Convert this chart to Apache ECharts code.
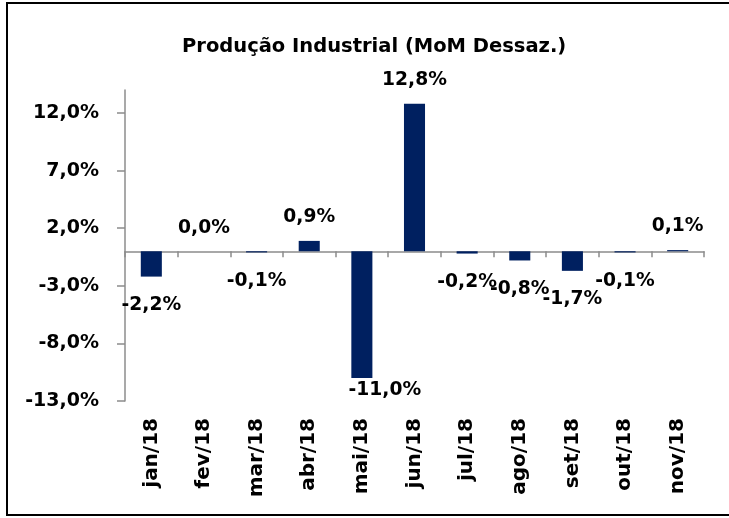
<!DOCTYPE html>
<html>
<head>
<meta charset="utf-8">
<script src="https://cdn.jsdelivr.net/npm/echarts@6/dist/echarts.min.js"></script>
<style>
  html, body { margin: 0; padding: 0; background: #fff; }
  #chart { width: 729px; height: 518px; }
</style>
</head>
<body>
<div id="chart"></div>
<script>
  // dados
  const meses = ['jan/18', 'fev/18', 'mar/18', 'abr/18', 'mai/18', 'jun/18', 'jul/18', 'ago/18', 'set/18', 'out/18', 'nov/18']
  const producao = [-2.2, 0.0, -0.1, 0.9, -11.0, 12.8, -0.2, -0.8, -1.7, -0.1, 0.1]
  const yTicks = [-13, -8, -3, 2, 7, 12]

  const fonte = 'DejaVu Sans'
  const pct = v => v.toFixed(1).replace('.', ',') + '%'

  const chart = echarts.init(document.getElementById('chart'))

  chart.setOption({
    animation: false,
    backgroundColor: '#fff',
    title: {
      text: 'Produção Industrial (MoM Dessaz.)',
      left: 177,
      top: 32,
      textStyle: { fontFamily: fonte, fontSize: 19.5, fontWeight: 'bold', color: '#000' }
    },
    graphic: [{
      // moldura (lado direito fica fora da janela)
      type: 'rect',
      shape: { x: 7, y: 3, width: 726, height: 512 },
      style: { fill: null, stroke: '#000', lineWidth: 2 }
    }],
    grid: { left: 125, right: 25, top: 90, bottom: 117 },
    xAxis: [{
      // rótulos embaixo
      type: 'category',
      data: meses,
      position: 'bottom',
      axisLine: { show: false, onZero: false },
      axisTick: { show: false },
      axisLabel: {
        rotate: 90,
        margin: 17,
        fontFamily: fonte,
        fontSize: 20,
        fontWeight: 'bold',
        color: '#000'
      }
    }, {
      // linha no zero
      type: 'category',
      data: meses,
      position: 'top',
      axisLine: { show: true, onZero: true, lineStyle: { color: '#8c8c8c', width: 1.5 } },
      axisTick: { show: true, inside: true, length: 6, lineStyle: { color: '#8c8c8c', width: 1.5 } },
      axisLabel: { show: false }
    }],
    yAxis: {
      type: 'value',
      min: -13,
      max: 14,
      interval: 5,
      splitLine: { show: false },
      axisLine: { show: true, lineStyle: { color: '#8c8c8c', width: 1.5 } },
      axisTick: { show: true, length: 8, customValues: yTicks, lineStyle: { color: '#8c8c8c', width: 1.5 } },
      axisLabel: {
        customValues: yTicks,
        formatter: pct,
        margin: 26,
        fontFamily: fonte,
        fontSize: 19,
        fontWeight: 'bold',
        color: '#000'
      }
    },
    series: [{
      type: 'bar',
      xAxisIndex: 0,
      barWidth: '40%',
      itemStyle: { color: '#002060' },
      data: producao.map(v => ({
        value: v,
        label: {
          position: v < 0 ? 'bottom' : 'top',
          // o de mai fica colado na barra (limite do gráfico)
          distance: v < 0 ? (v < -10 ? 3 : 19) : 14,
          offset: v < -10 ? [23, 0] : [0, 0]
        }
      })),
      label: {
        show: true,
        formatter: p => pct(p.value),
        fontFamily: fonte,
        fontSize: 18.7,
        fontWeight: 'bold',
        color: '#000'
      }
    }]
  })
</script>
</body>
</html>
